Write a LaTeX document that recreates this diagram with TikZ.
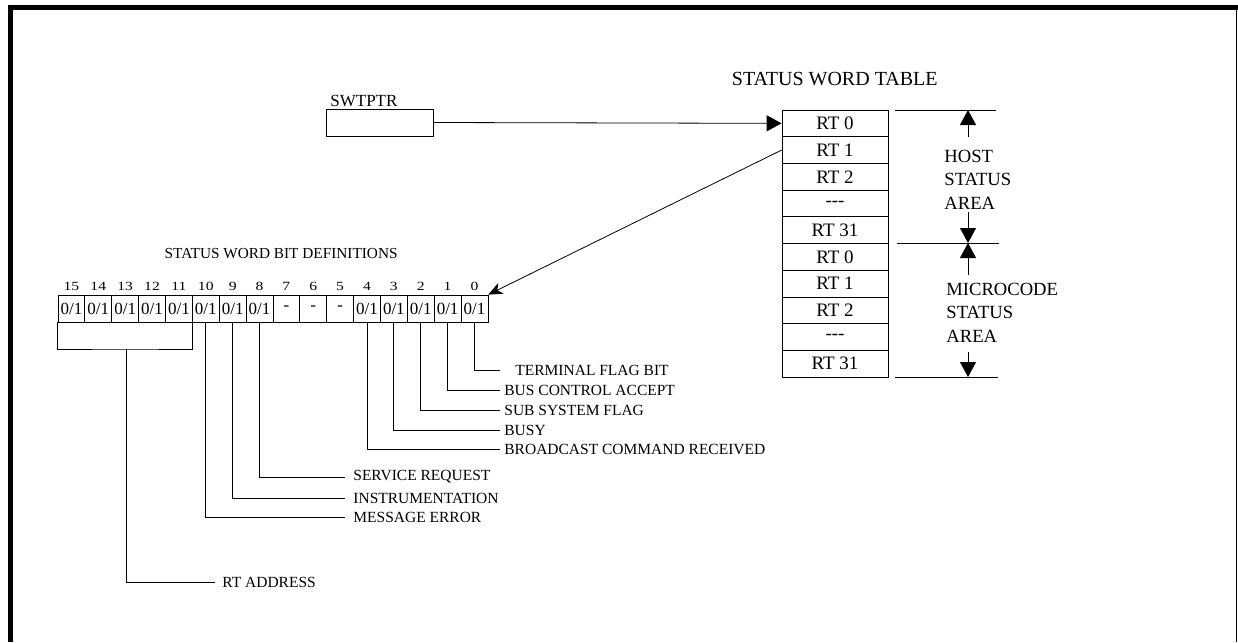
\documentclass[tikz,border=0pt]{standalone}
\usepackage{fontspec}
\setmainfont{Liberation Serif}
\usetikzlibrary{arrows.meta}
\begin{document}
\begin{tikzpicture}[x=1pt,y=-1pt, line width=0.8pt,
  cell/.style={draw, minimum width=26.87pt, minimum height=27pt, inner sep=0pt, font=\fontsize{17}{17}\selectfont},
  tabrow/.style={draw, minimum width=106pt, minimum height=26.7pt, inner sep=0pt, font=\fontsize{19}{19}\selectfont},
  bitnum/.style={font=\fontsize{12.5}{13}\selectfont, inner sep=0pt, anchor=base},
  lbl/.style={font=\fontsize{15.5}{16}\selectfont, inner ysep=0pt, inner xsep=#1, anchor=west},
  lbl/.default=4pt,
  area/.style={font=\fontsize{18.6}{23.5}\selectfont, align=left, anchor=north west, inner sep=0pt},
  tip/.style={-{Triangle[length=15pt,width=16pt]}},
]
\useasboundingbox (0,0) rectangle (1238,642);
% frame
\fill (8,5) rectangle (1238,10);
\fill (8,5) rectangle (13,642);
\draw[line width=1.6pt] (1236.5,5) -- (1236.5,642);

% status word table
\foreach \t [count=\i] in {RT 0,RT 1,RT 2,-{}-{}-,RT 31,RT 0,RT 1,RT 2,-{}-{}-,RT 31}
  \node[tabrow] (r\i) at (835,{110+26.7*(\i-0.5)}) {\t};
\node[font=\fontsize{20}{20}\selectfont, anchor=base east, inner sep=0pt] (ttl) at (938,85) {STATUS WORD TABLE};

% SWTPTR
\node[draw, minimum width=107pt, minimum height=27pt, inner sep=0pt] (ptr) at (379.5,122.5) {};
\node[font=\fontsize{17}{17}\selectfont, anchor=base west, inner sep=0pt] (ptrl) at (330,106) {SWTPTR};
\draw[tip] (ptr.east) -- (r1.west);

% area markers
\coordinate (h0a) at (895,110); \coordinate (h0b) at (996,110);
\coordinate (h1a) at (897,243); \coordinate (h1b) at (999,243);
\coordinate (h2a) at (895,377); \coordinate (h2b) at (998,377);
\draw (h0a) -- (h0b);
\draw (h1a) -- (h1b);
\draw (h2a) -- (h2b);
\coordinate (a1) at (968,137);
\coordinate (a2) at (968,212);
\coordinate (a3) at (968,275);
\coordinate (a4) at (968,352);
\draw[tip] (a1) -- (a1 |- h0a);
\draw[tip] (a2) -- (a2 |- h1a);
\draw[tip] (a3) -- (a3 |- h1a);
\draw[tip] (a4) -- (a4 |- h2a);
\node[area] (host) at (944,149.5) {HOST\\STATUS\\AREA};
\node[area] (micro) at (946,282.5) {MICROCODE\\STATUS\\AREA};

% bit definitions
\node[font=\fontsize{15.3}{16}\selectfont, anchor=base east, inner sep=0pt] (bdef) at (398,258) {STATUS WORD BIT DEFINITIONS};
\foreach \n in {15,14,13,12,11,10,9,8,7,6,5,4,3,2,1,0} {
  \node[cell] (b\n) at ({58+26.87*(15.5-\n)},308.5) {\ifnum\n>7 0/1\else\ifnum\n<5 0/1\else -\fi\fi};
  \node[bitnum] (n\n) at ({58+26.87*(15.5-\n)},290) {\scalebox{1.25}[1]{\n}};
}
\draw[-{Stealth[length=14pt,width=12pt,inset=4pt]}] (r2.west) -- (b0.north east);

% labels
\node[lbl=15pt] (lterm) at (500,370) {TERMINAL FLAG BIT};
\node[lbl] (lbus) at (500,390) {BUS CONTROL ACCEPT};
\node[lbl] (lsub) at (500,410) {SUB SYSTEM FLAG};
\node[lbl] (lbusy) at (500,430) {BUSY};
\node[lbl] (lbc) at (500,449) {BROADCAST COMMAND RECEIVED};
\node[lbl=8pt] (lsr) at (345,477) {SERVICE REQUEST};
\node[lbl=8pt] (lin) at (345,498) {INSTRUMENTATION};
\node[lbl=8pt] (lme) at (345,517) {MESSAGE ERROR};
\node[lbl=7pt] (lrt) at (215,582) {RT ADDRESS};

\draw (b0.south) |- (lterm.west);
\draw (b1.south) |- (lbus.west);
\draw (b2.south) |- (lsub.west);
\draw (b3.south) |- (lbusy.west);
\draw (b4.south) |- (lbc.west);
\draw (b8.south) |- (lsr.west);
\draw (b9.south) |- (lin.west);
\draw (b10.south) |- (lme.west);
\coordinate (brk) at (126,349);
\draw (b15.south west) |- (brk) -| (b11.south east);
\draw (brk) |- (lrt.west);
\end{tikzpicture}
\end{document}
